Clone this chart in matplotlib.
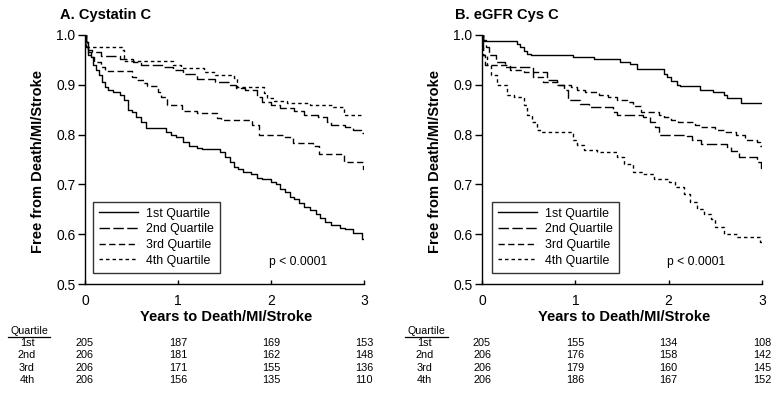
import matplotlib
matplotlib.use("Agg")
import matplotlib.pyplot as plt
from matplotlib.lines import Line2D

plt.rcParams['font.family'] = ['Liberation Sans', 'DejaVu Sans']
plt.rcParams['lines.scale_dashes'] = False

W, H = 778, 393

# ---------------- data ----------------
quartile_labels = ["1st Quartile", "2nd Quartile", "3rd Quartile", "4th Quartile"]
row_labels = ["1st", "2nd", "3rd", "4th"]
risk_times = [0, 1, 2, 3]

# Panel A: Cystatin C
a_q1_t = [0, 0.01, 0.03, 0.06, 0.09, 0.12, 0.15, 0.18, 0.21, 0.25, 0.30, 0.38, 0.42, 0.46, 0.50, 0.55,
          0.60, 0.66, 0.87, 0.92, 0.98, 1.05, 1.12, 1.20, 1.26, 1.45, 1.50, 1.56, 1.60, 1.65, 1.70, 1.78,
          1.85, 1.90, 2.00, 2.05, 2.10, 2.15, 2.20, 2.25, 2.30, 2.35, 2.42, 2.48, 2.53, 2.58, 2.65, 2.74,
          2.80, 2.88, 2.98, 3.0]
a_q1_s = [1.0, 0.985, 0.96, 0.955, 0.94, 0.93, 0.92, 0.905, 0.895, 0.89, 0.885, 0.88, 0.87, 0.85, 0.845,
          0.835, 0.825, 0.813, 0.806, 0.80, 0.795, 0.785, 0.778, 0.773, 0.772, 0.765, 0.755, 0.745, 0.735,
          0.73, 0.725, 0.72, 0.713, 0.71, 0.705, 0.70, 0.69, 0.685, 0.675, 0.67, 0.662, 0.655, 0.648, 0.64,
          0.632, 0.625, 0.618, 0.613, 0.61, 0.603, 0.59, 0.59]
a_q2_t = [0, 0.01, 0.03, 0.08, 0.17, 0.38, 0.52, 0.60, 0.85, 0.95, 1.05, 1.20, 1.40, 1.55, 1.62, 1.72,
          1.85, 1.90, 2.00, 2.10, 2.25, 2.35, 2.50, 2.60, 2.65, 2.80, 2.88, 2.97, 3.0]
a_q2_s = [1.0, 0.985, 0.97, 0.965, 0.958, 0.951, 0.945, 0.94, 0.935, 0.93, 0.922, 0.912, 0.905, 0.90,
          0.893, 0.89, 0.875, 0.865, 0.86, 0.853, 0.848, 0.84, 0.835, 0.825, 0.82, 0.815, 0.81, 0.803, 0.803]
a_q3_t = [0, 0.01, 0.03, 0.06, 0.10, 0.17, 0.22, 0.50, 0.55, 0.63, 0.67, 0.78, 0.82, 0.88, 1.04, 1.20,
          1.42, 1.46, 1.80, 1.87, 2.15, 2.24, 2.45, 2.52, 2.78, 2.99, 3.0]
a_q3_s = [1.0, 0.975, 0.965, 0.955, 0.945, 0.935, 0.928, 0.915, 0.91, 0.904, 0.897, 0.885, 0.875, 0.86,
          0.847, 0.844, 0.834, 0.83, 0.82, 0.80, 0.796, 0.784, 0.778, 0.762, 0.745, 0.73, 0.73]
a_q4_t = [0, 0.01, 0.025, 0.40, 0.42, 0.95, 1.03, 1.28, 1.40, 1.60, 1.63, 1.92, 1.96, 2.03, 2.17, 2.42,
          2.67, 2.78, 3.0]
a_q4_s = [1.0, 0.985, 0.975, 0.97, 0.948, 0.94, 0.934, 0.925, 0.92, 0.914, 0.896, 0.884, 0.874, 0.867,
          0.864, 0.86, 0.855, 0.84, 0.84]

# Panel B: eGFR Cys C
b_q1_t = [0, 0.01, 0.375, 0.41, 0.45, 0.48, 0.52, 0.98, 1.2, 1.48, 1.59, 1.66, 1.95, 1.98, 2.02, 2.09,
          2.125, 2.34, 2.48, 2.59, 2.625, 2.77, 3.0]
b_q1_s = [1.0, 0.988, 0.981, 0.975, 0.968, 0.961, 0.96, 0.956, 0.951, 0.946, 0.942, 0.932, 0.922, 0.915,
          0.908, 0.90, 0.897, 0.89, 0.886, 0.88, 0.873, 0.863, 0.863]
b_q2_t = [0, 0.01, 0.04, 0.08, 0.15, 0.25, 0.55, 0.70, 0.80, 0.88, 0.92, 1.05, 1.15, 1.40, 1.45, 1.72,
          1.80, 1.85, 1.90, 2.20, 2.25, 2.35, 2.62, 2.67, 2.75, 2.95, 2.99, 3.0]
b_q2_s = [1.0, 0.99, 0.975, 0.96, 0.945, 0.935, 0.925, 0.91, 0.90, 0.89, 0.87, 0.862, 0.855, 0.845, 0.84,
          0.835, 0.825, 0.815, 0.80, 0.797, 0.79, 0.782, 0.775, 0.768, 0.755, 0.745, 0.732, 0.732]
b_q3_t = [0, 0.01, 0.03, 0.30, 0.45, 0.55, 0.65, 0.82, 0.95, 1.02, 1.10, 1.25, 1.35, 1.45, 1.55, 1.62,
          1.70, 1.90, 1.95, 2.02, 2.10, 2.28, 2.35, 2.50, 2.60, 2.72, 2.82, 2.95, 2.98, 3.0]
b_q3_s = [1.0, 0.96, 0.94, 0.93, 0.925, 0.915, 0.905, 0.90, 0.895, 0.89, 0.885, 0.88, 0.875, 0.87, 0.865,
          0.858, 0.845, 0.84, 0.835, 0.83, 0.825, 0.82, 0.815, 0.81, 0.805, 0.80, 0.79, 0.785, 0.778, 0.778]
b_q4_t = [0, 0.01, 0.05, 0.10, 0.16, 0.27, 0.34, 0.45, 0.48, 0.54, 0.59, 0.63, 0.97, 1.02, 1.09, 1.23,
          1.45, 1.52, 1.62, 1.73, 1.84, 2.00, 2.07, 2.16, 2.23, 2.30, 2.38, 2.45, 2.50, 2.59, 2.73, 2.98, 3.0]
b_q4_s = [1.0, 0.96, 0.94, 0.92, 0.90, 0.88, 0.875, 0.86, 0.84, 0.825, 0.81, 0.805, 0.79, 0.78, 0.77,
          0.765, 0.755, 0.74, 0.725, 0.72, 0.71, 0.705, 0.695, 0.68, 0.665, 0.65, 0.64, 0.63, 0.615, 0.60,
          0.595, 0.585, 0.585]

a_risk = [[205, 187, 169, 153], [206, 181, 162, 148], [206, 171, 155, 136], [206, 156, 135, 110]]
b_risk = [[205, 155, 134, 108], [206, 176, 158, 142], [206, 179, 160, 145], [206, 186, 167, 152]]

p_text = "p < 0.0001"
y_ticks = [0.5, 0.6, 0.7, 0.8, 0.9, 1.0]
x_ticks = [0, 1, 2, 3]

# ---------------- style ----------------
styles = [dict(linestyle='-'),
          dict(linestyle=(0, (7.5, 2.5))),
          dict(linestyle=(0, (4.5, 2.5))),
          dict(linestyle=(0, (2.5, 2.2)))]

fig = plt.figure(figsize=(W / 100, H / 100), dpi=100)


def fx(x):
    return x / W


def fy(y):
    return 1 - y / H


def panel(x0, x1, title, curves, risk, tx, ylab_x, qx0, qx1, legend_x0, p_x):
    ax = fig.add_axes([fx(x0), fy(284), fx(x1) - fx(x0), fy(35) - fy(284)])
    for (t, s), lab, st in zip(curves, quartile_labels, styles):
        ax.step(t, s, where='post', color='black', lw=1.0, label=lab, **st)
    ax.set_xlim(0, 3)
    ax.set_ylim(0.5, 1.0)
    ax.set_xticks(x_ticks)
    ax.set_yticks(y_ticks)
    ax.set_yticklabels([f"{v:.1f}" for v in y_ticks])
    for sp in ['top', 'right']:
        ax.spines[sp].set_visible(False)
    for sp in ['left', 'bottom']:
        ax.spines[sp].set_linewidth(1.0)
    ax.tick_params(axis='y', direction='out', length=5, width=1, pad=2, labelsize=10)
    ax.tick_params(axis='x', direction='in', length=3, width=1, pad=7, labelsize=10)
    ax.patch.set_alpha(0)
    fig.text(fx(tx), fy(15), title, fontsize=10.5, fontweight='bold', ha='left', va='center')
    fig.text(fx(ylab_x), fy(161), "Free from Death/MI/Stroke", fontsize=10.5, fontweight='bold',
             rotation=90, ha='center', va='center')
    fig.text(fx((x0 + x1) / 2 + 2), fy(317), "Years to Death/MI/Stroke", fontsize=10.5,
             fontweight='bold', ha='center', va='center')
    leg = ax.legend(loc='lower left', bbox_to_anchor=(fx(legend_x0), fy(273)),
                    bbox_transform=fig.transFigure, frameon=True, fancybox=False,
                    edgecolor='black', fontsize=8.9, handlelength=3.1, handletextpad=0.7,
                    labelspacing=0.3, borderpad=0.5, borderaxespad=0)
    leg.get_frame().set_linewidth(1.0)
    ax.text(p_x, 0.545, p_text, fontsize=8.7, ha='left', va='center')
    # at-risk table
    qc = (qx0 + qx1) / 2
    fig.text(fx(qc), fy(331), "Quartile", fontsize=7.7, ha='center', va='center')
    fig.add_artist(Line2D([fx(qx0), fx(qx1)], [fy(337), fy(337)], color='black', lw=0.9))
    for i, (rl, row) in enumerate(zip(row_labels, risk)):
        yy = 343 + i * 12.3
        fig.text(fx(qc - 2), fy(yy), rl, fontsize=7.8, ha='center', va='center')
        for tval, n in zip(risk_times, row):
            xp = ax.transData.transform((tval, 0.5))[0]
            fig.text(xp / W, fy(yy), str(n), fontsize=7.8, ha='center', va='center')
    return ax


curves_a = [(a_q1_t, a_q1_s), (a_q2_t, a_q2_s), (a_q3_t, a_q3_s), (a_q4_t, a_q4_s)]
curves_b = [(b_q1_t, b_q1_s), (b_q2_t, b_q2_s), (b_q3_t, b_q3_s), (b_q4_t, b_q4_s)]

panel(85, 364, "A. Cystatin C", curves_a, a_risk, 60, 38, 8, 50, 93, 1.98)
panel(482, 762, "B. eGFR Cys C", curves_b, b_risk, 455, 435, 405, 448, 492, 1.98)

fig.savefig("out.png", dpi=100)
